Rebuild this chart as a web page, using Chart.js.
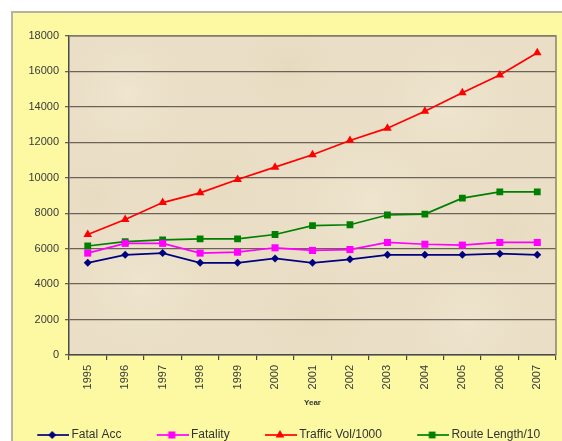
<!DOCTYPE html>
<html>
<head>
<meta charset="utf-8">
<script src="https://cdn.jsdelivr.net/npm/chart.js@4/dist/chart.umd.min.js"></script>
<style>
  html, body { margin: 0; padding: 0; overflow: hidden; background: #ffffff; width: 562px; height: 441px; }
  #wrap { position: absolute; left: 0; top: 0; width: 562px; height: 451px; }
</style>
</head>
<body>
<div id="wrap"><canvas id="chart" width="562" height="451"></canvas></div>
<script>
// Road safety indicators, 1995-2007
const years = ['1995', '1996', '1997', '1998', '1999', '2000', '2001', '2002', '2003', '2004', '2005', '2006', '2007'];
const fatalAcc    = [5200, 5650, 5750, 5200, 5200, 5450, 5200, 5400, 5650, 5650, 5650, 5720, 5650];
const fatality    = [5750, 6300, 6300, 5750, 5800, 6050, 5900, 5950, 6350, 6250, 6200, 6350, 6350];
const trafficVol  = [6800, 7650, 8600, 9150, 9900, 10600, 11300, 12100, 12800, 13750, 14800, 15800, 17050];
const routeLength = [6150, 6400, 6500, 6550, 6550, 6800, 7300, 7350, 7900, 7950, 8850, 9200, 9200];
const seriesNames = ['Fatal Acc', 'Fatality', 'Traffic Vol/1000', 'Route Length/10'];
const yMin = 0, yMax = 18000, yStep = 2000;

const FONT = "Arial, 'Liberation Sans', sans-serif";

const styles = [
  { color: '#000080', point: 'rectRot',  radius: 4.0 },
  { color: '#FF00FF', point: 'rect',     radius: 5.0 },
  { color: '#FF0000', point: 'triangle', radius: 5.0 },
  { color: '#008000', point: 'rect',     radius: 4.8 }
];

// Legend sample: a short line with the series marker in the middle
function markerPath(ctx, style, r, x, y) {
  ctx.beginPath();
  if (style === 'rectRot') {
    ctx.moveTo(x, y - r); ctx.lineTo(x + r, y); ctx.lineTo(x, y + r); ctx.lineTo(x - r, y);
  } else if (style === 'triangle') {
    const h = r * Math.sin(Math.PI / 3);
    ctx.moveTo(x, y - r); ctx.lineTo(x + h, y + r / 2); ctx.lineTo(x - h, y + r / 2);
  } else {
    const s = r * Math.SQRT1_2;
    ctx.rect(x - s, y - s, 2 * s, 2 * s);
  }
  ctx.closePath();
}
function legendSample(st) {
  const c = document.createElement('canvas');
  c.width = 66; c.height = 14;
  const ctx = c.getContext('2d');
  ctx.strokeStyle = st.color; ctx.fillStyle = st.color; ctx.lineWidth = 1.7;
  ctx.beginPath(); ctx.moveTo(34, 7); ctx.lineTo(66, 7); ctx.stroke();
  markerPath(ctx, st.point, st.radius, 49, 7);
  ctx.fill();
  return c;
}
const samples = styles.map(legendSample);

// Yellow chart panel and parchment plot background
const backdrop = {
  id: 'backdrop',
  beforeDraw(chart) {
    const ctx = chart.ctx, a = chart.chartArea;
    ctx.save();
    ctx.fillStyle = '#ffffff';
    ctx.fillRect(0, 0, chart.width, chart.height);
    ctx.fillStyle = '#FCF9A2';
    ctx.fillRect(12, 12, chart.width, chart.height);
    ctx.strokeStyle = '#b4b2a4'; ctx.lineWidth = 2;
    ctx.beginPath(); ctx.moveTo(12, chart.height); ctx.lineTo(12, 12); ctx.lineTo(chart.width, 12); ctx.stroke();

    ctx.fillStyle = '#EADFC6';
    ctx.fillRect(a.left, a.top, a.right - a.left, a.bottom - a.top);
    ctx.beginPath(); ctx.rect(a.left, a.top, a.right - a.left, a.bottom - a.top); ctx.clip();
    const W = a.right - a.left, H = a.bottom - a.top;
    const blots = [
      [0.12, 0.18, 0.14, 'rgba(244,236,218,0.55)'], [0.45, 0.10, 0.12, 'rgba(218,202,168,0.25)'],
      [0.78, 0.22, 0.16, 'rgba(244,236,218,0.5)'],  [0.30, 0.45, 0.13, 'rgba(218,202,168,0.22)'],
      [0.62, 0.52, 0.18, 'rgba(244,236,218,0.5)'],  [0.90, 0.62, 0.12, 'rgba(218,202,168,0.22)'],
      [0.15, 0.78, 0.16, 'rgba(244,236,218,0.5)'],  [0.50, 0.88, 0.14, 'rgba(218,202,168,0.22)'],
      [0.82, 0.90, 0.14, 'rgba(244,236,218,0.45)'], [0.05, 0.50, 0.09, 'rgba(218,202,168,0.2)']
    ];
    blots.forEach(([fx, fy, fr, col]) => {
      const x = a.left + fx * W, y = a.top + fy * H, r = fr * W;
      const g = ctx.createRadialGradient(x, y, 0, x, y, r);
      g.addColorStop(0, col); g.addColorStop(1, 'rgba(234,223,198,0)');
      ctx.fillStyle = g;
      ctx.fillRect(x - r, y - r, 2 * r, 2 * r);
    });
    ctx.restore();
  },
  beforeDatasetsDraw(chart) {
    const ctx = chart.ctx, a = chart.chartArea;
    ctx.save();
    ctx.strokeStyle = '#8a8274'; ctx.lineWidth = 1.5;
    ctx.beginPath(); ctx.moveTo(a.left, a.top); ctx.lineTo(a.right, a.top); ctx.lineTo(a.right, a.bottom); ctx.stroke();
    ctx.restore();
  }
};

const seriesData = [fatalAcc, fatality, trafficVol, routeLength];

new Chart(document.getElementById('chart'), {
  type: 'line',
  data: {
    labels: years,
    datasets: seriesData.map((d, i) => ({
      label: seriesNames[i],
      data: d,
      borderColor: styles[i].color,
      backgroundColor: styles[i].color,
      pointStyle: styles[i].point,
      pointRadius: styles[i].radius,
      pointBorderWidth: 0,
      pointBackgroundColor: styles[i].color,
      borderWidth: 1.7,
      tension: 0,
      fill: false
    }))
  },
  options: {
    responsive: false,
    animation: false,
    devicePixelRatio: 1,
    layout: { padding: { left: 2, right: 6, top: 36, bottom: 0 } },
    plugins: {
      tooltip: { enabled: false },
      legend: {
        position: 'bottom',
        align: 'start',
        labels: {
          usePointStyle: true,
          pointStyleWidth: 58.5,
          padding: 5,
          color: '#333333',
          font: { family: FONT, size: 12 },
          generateLabels(chart) {
            const items = Chart.defaults.plugins.legend.labels.generateLabels(chart);
            items.forEach((it, i) => { it.pointStyle = samples[i]; });
            return items;
          }
        }
      }
    },
    scales: {
      x: {
        type: 'category',
        offset: true,
        grid: { display: true, drawOnChartArea: false, drawTicks: true, tickLength: 5, offset: true, color: '#4a4a4a', lineWidth: 1.2 },
        border: { display: true, color: '#4a4a4a', width: 1.5 },
        ticks: { autoSkip: false, minRotation: 90, maxRotation: 90, padding: 5, color: '#3a3a3a', font: { family: FONT, size: 11 } },
        title: { display: true, text: 'Year', color: '#333333', font: { family: FONT, size: 8, weight: 'bold' }, padding: { top: 0, bottom: 16.5 } },
        afterFit(scale) { scale.height = 69; }
      },
      y: {
        min: yMin,
        max: yMax,
        grid: { color: '#6b6356', lineWidth: 1.3, drawTicks: true, tickLength: 4 },
        border: { display: true, color: '#4a4a4a', width: 1.5 },
        ticks: { stepSize: yStep, padding: 6, color: '#3a3a3a', font: { family: FONT, size: 11 }, callback: v => String(v) },
        afterFit(scale) { scale.width = 67; }
      }
    }
  },
  plugins: [backdrop]
});
</script>
</body>
</html>
